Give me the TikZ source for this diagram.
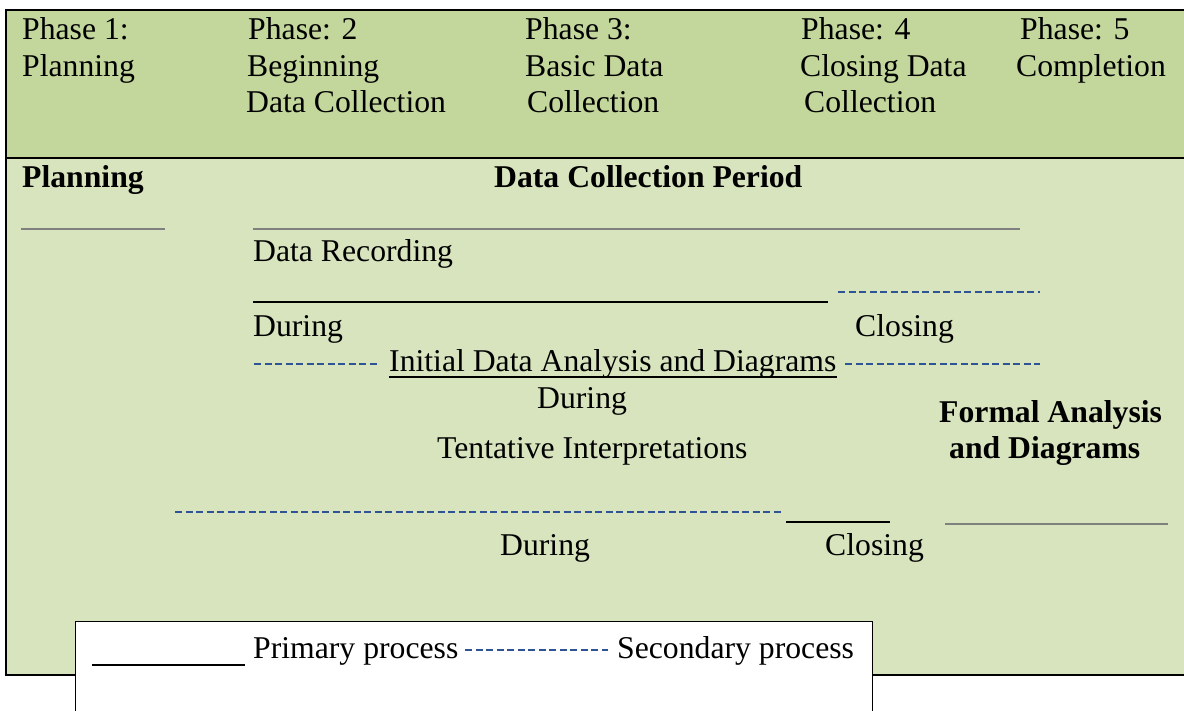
\documentclass[tikz,border=0pt]{standalone}
\usepackage{fontspec}
\setmainfont{Liberation Serif}
\definecolor{hdr}{RGB}{195,214,155}
\definecolor{bodyg}{RGB}{216,228,189}
\definecolor{dashblue}{RGB}{46,84,150}
\definecolor{ruleg}{RGB}{128,128,128}
\tikzset{
  txt/.style={anchor=base west, inner sep=0pt, font=\fontsize{31.7}{36.5}\selectfont},
  btxt/.style={anchor=base west, inner sep=0pt, font=\fontsize{31.7}{36.5}\selectfont\bfseries},
  primary/.style={line width=2pt, black},
  secondary/.style={line width=2pt, dashblue, dash pattern=on 7pt off 3.5pt},
  grayrule/.style={line width=2.5pt, ruleg},
  frame/.style={line width=2.5pt, black},
}
\begin{document}
\begin{tikzpicture}[x=1pt,y=-1pt]
\useasboundingbox (0,0) rectangle (1184,711);
\clip (0,0) rectangle (1184,711);
\fill[white] (0,0) rectangle (1184,711);
% main boxes
\draw[frame, fill=bodyg] (6,10) rectangle (1200,675);
\draw[frame, fill=hdr] (6,10) rectangle (1200,158);
% header
\node[txt] (p1a) at (22,40)  {Phase 1:};
\node[txt] (p1b) at (22,77)  {Planning};
\node[txt] (p2a) at (248,40) {Phase: 2};
\node[txt] (p2b) at (247,77) {Beginning};
\node[txt] (p2c) at (246,113) {Data Collection};
\node[txt] (p3a) at (525,40) {Phase 3:};
\node[txt] (p3b) at (525,77) {Basic Data};
\node[txt] (p3c) at (527,113) {Collection};
\node[txt] (p4a) at (801,40) {Phase: 4};
\node[txt] (p4b) at (800,77) {Closing Data};
\node[txt] (p4c) at (804,113) {Collection};
\node[txt] (p5a) at (1020,40) {Phase: 5};
\node[txt] (p5b) at (1016,77) {Completion};
% body headings
\node[btxt] (plan) at (22,188) {Planning};
\node[btxt] (dcp) at (494,188) {Data Collection Period};
\coordinate (g1s) at (21,229);  \coordinate (g1e) at (165,229);
\coordinate (g2s) at (253,229); \coordinate (g2e) at (1020,229);
\draw[grayrule] (g1s) -- (g1e);
\draw[grayrule] (g2s) -- (g2e);
% data recording
\node[txt] (rec) at (253,262) {Data Recording};
\coordinate (r1s) at (253,302); \coordinate (r1e) at (828,302);
\coordinate (r2s) at (838,292); \coordinate (r2e) at (1040,292);
\draw[primary] (r1s) -- (r1e);
\draw[secondary] (r2s) -- (r2e);
\node[txt] (dur1) at (253,337) {During};
\node[txt] (clo1) at (855,337) {Closing};
% initial analysis
\coordinate (a1s) at (254,364); \coordinate (a1e) at (380,364);
\draw[secondary] (a1s) -- (a1e);
\node[txt] (ida) at (389,372) {Initial Data Analysis and Diagrams};
\draw[line width=1.8pt] ([yshift=-5pt]ida.base west) -- ([yshift=-5pt]ida.base east);
\coordinate (a2s) at (845,364); \coordinate (a2e) at (1040,364);
\draw[secondary] (a2s) -- (a2e);
\node[txt] (dur2) at (537,409) {During};
% formal analysis
\node[btxt] (fa1) at (939,422) {Formal Analysis};
\node[btxt] (fa2) at (949,458) {and Diagrams};
\node[txt] (ti) at (437,458) {Tentative Interpretations};
\coordinate (t1s) at (175,512); \coordinate (t1e) at (782,512);
\draw[secondary] (t1s) -- (t1e);
\coordinate (t2s) at (786,522); \coordinate (t2e) at (890,522);
\draw[primary] (t2s) -- (t2e);
\coordinate (t3s) at (945,524); \coordinate (t3e) at (1168,524);
\draw[grayrule] (t3s) -- (t3e);
\node[txt] (dur3) at (500,555) {During};
\node[txt] (clo2) at (825,555) {Closing};
% legend
\draw[line width=1pt, fill=white] (75,621) rectangle (872,730);
\coordinate (l1s) at (92,665); \coordinate (l1e) at (245,665);
\draw[primary] (l1s) -- (l1e);
\node[txt] (prim) at (253,658) {Primary process};
\coordinate (l2s) at (465,650); \coordinate (l2e) at (608,650);
\draw[secondary] (l2s) -- (l2e);
\node[txt] (sec) at (617,658) {Secondary process};
\end{tikzpicture}
\end{document}
